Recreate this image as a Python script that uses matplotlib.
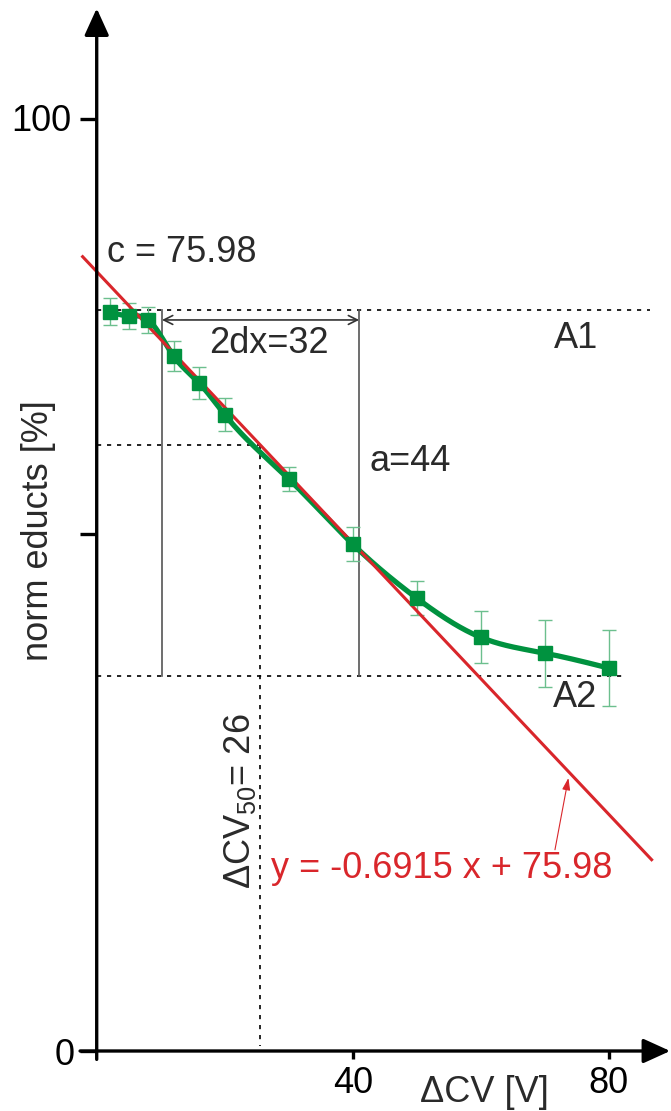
import matplotlib
matplotlib.use('Agg')
import numpy as np
import matplotlib.pyplot as plt

plt.rcParams['font.family'] = ['Liberation Sans', 'DejaVu Sans']
plt.rcParams['mathtext.fontset'] = 'custom'
plt.rcParams['mathtext.rm'] = 'Liberation Sans'
plt.rcParams['mathtext.it'] = 'Liberation Sans:italic'

# measured points
cv = [2, 5, 8, 12, 16, 20, 30, 40, 50, 60, 70, 80]
educts = [79.35, 78.9, 78.5, 74.6, 71.7, 68.3, 61.4, 54.4, 48.6, 44.4, 42.7, 41.1]
err = [1.45, 1.4, 1.4, 1.6, 1.75, 1.8, 1.3, 1.8, 1.8, 2.8, 3.6, 4.1]

# linear fit as drawn
fit_slope = -0.728
fit_intercept = 83.65
fit_range = [-2.2, 86.7]

# fit parameters as drawn
A1 = 79.5
A2 = 40.3
cv50 = 25.5
half_level = 65.0
dx_left, dx_right = 10.2, 41.0

GREEN = '#00923f'
RED = '#d9262b'
TXT = '#2a2a2a'
FS = 26


def spline(x, y, xs):
    # natural cubic spline
    x = np.asarray(x, float)
    y = np.asarray(y, float)
    n = len(x)
    h = np.diff(x)
    A = np.zeros((n, n))
    b = np.zeros(n)
    A[0, 0] = A[-1, -1] = 1
    for i in range(1, n - 1):
        A[i, i - 1] = h[i - 1]
        A[i, i] = 2 * (h[i - 1] + h[i])
        A[i, i + 1] = h[i]
        b[i] = 6 * ((y[i + 1] - y[i]) / h[i] - (y[i] - y[i - 1]) / h[i - 1])
    M = np.linalg.solve(A, b)
    idx = np.clip(np.searchsorted(x, xs) - 1, 0, n - 2)
    x0, x1 = x[idx], x[idx + 1]
    hh = h[idx]
    return (M[idx] * (x1 - xs)**3 / (6 * hh) + M[idx + 1] * (xs - x0)**3 / (6 * hh)
            + (y[idx] / hh - M[idx] * hh / 6) * (x1 - xs)
            + (y[idx + 1] / hh - M[idx + 1] * hh / 6) * (xs - x0))


fig = plt.figure(figsize=(6.71, 11.11), dpi=100)
ax = fig.add_axes([0, 0, 1, 1])
ax.set_xlim(-15.11, 89.73)
ax.set_ylim(-6.44, 112.8)
ax.axis('off')

# axes with arrows
arrow = dict(arrowstyle='-|>,head_length=0.55,head_width=0.25', mutation_scale=30,
             color='black', lw=2.4, shrinkA=0, shrinkB=0)
ax.annotate('', xy=(89.6, 0), xytext=(-2.6, 0), arrowprops=arrow, zorder=6)
ax.annotate('', xy=(0, 111.9), xytext=(0, -0.9), arrowprops=arrow, zorder=6)
for yt in [0, 55.5, 100]:
    ax.plot([-2.6, 0], [yt, yt], color='black', lw=2.4, solid_capstyle='butt', zorder=6)
for xt in [40, 80]:
    ax.plot([xt, xt], [0, -0.85], color='black', lw=2.4, solid_capstyle='butt', zorder=6)

ax.text(-3.9, 98.7, '100', ha='right', va='baseline', fontsize=FS, color='black')
ax.text(-3.5, -1.5, '0', ha='right', va='baseline', fontsize=FS, color='black')
for xt in [40, 80]:
    ax.text(xt, -4.5, str(xt), ha='center', va='baseline', fontsize=FS, color='black')
ax.text(50.5, -5.44, 'ΔCV [V]', ha='left', va='baseline', fontsize=FS, color=TXT)
ax.text(-9.17, 55.9, 'norm educts [%]', rotation=90, ha='center', va='center',
        fontsize=FS, color=TXT)

# guide lines
dots = dict(color='black', lw=1.2, linestyle=(0, (2.5, 3.5)), zorder=2)
ax.plot([0, 86.5], [A1, A1], **dots)
ax.plot([0, 82.5], [A2, A2], **dots)
ax.plot([0, cv50], [half_level, half_level], **dots)
ax.plot([cv50, cv50], [half_level, 0.5], **dots)
for xv in [dx_left, dx_right]:
    ax.plot([xv, xv], [A1, A2], color='#555555', lw=1.2, zorder=2)

ax.annotate('', xy=(dx_left, 78.46), xytext=(dx_right, 78.46),
            arrowprops=dict(arrowstyle='<->', color='#333333', lw=1.2,
                            mutation_scale=16, shrinkA=0, shrinkB=0), zorder=3)

# linear fit
fx = np.array(fit_range)
ax.plot(fx, fit_slope * fx + fit_intercept, color=RED, lw=2.2, zorder=5)

# smooth curve, error bars and points
xs = np.linspace(cv[0], cv[-1], 400)
ax.plot(xs, spline(cv, educts, xs), color=GREEN, lw=3.8, zorder=4,
        solid_capstyle='round')
ax.errorbar(cv, educts, yerr=err, fmt='none', ecolor='#6cbf8e', elinewidth=1.0,
            capsize=5, capthick=1.0, zorder=3)
ax.plot(cv, educts, 's', color=GREEN, markersize=10, zorder=5)

# labels
ax.text(1.6, 84.7, 'c = 75.98', ha='left', va='baseline', fontsize=FS, color=TXT)
ax.text(26.9, 74.9, '2dx=32', ha='center', va='baseline', fontsize=FS, color=TXT)
ax.text(74.9, 75.5, 'A1', ha='center', va='baseline', fontsize=FS, color=TXT)
ax.text(74.8, 36.95, 'A2', ha='center', va='baseline', fontsize=FS, color=TXT)
ax.text(42.7, 62.2, 'a=44', ha='left', va='baseline', fontsize=FS, color=TXT)
ax.text(22.4, 26.8, 'ΔCV$_{50}$= 26', rotation=90, ha='center', va='center',
        fontsize=FS, color=TXT)
ax.text(27.3, 18.57, 'y = -0.6915 x + 75.98', ha='left', va='baseline',
        fontsize=FS, color=RED)
ax.annotate('', xy=(73.7, 29.3), xytext=(71.6, 21.6),
            arrowprops=dict(arrowstyle='-|>,head_length=0.6,head_width=0.2',
                            mutation_scale=12, color=RED, lw=0.8,
                            shrinkA=0, shrinkB=0), zorder=6)

plt.savefig('out.png', dpi=100, facecolor='white')
